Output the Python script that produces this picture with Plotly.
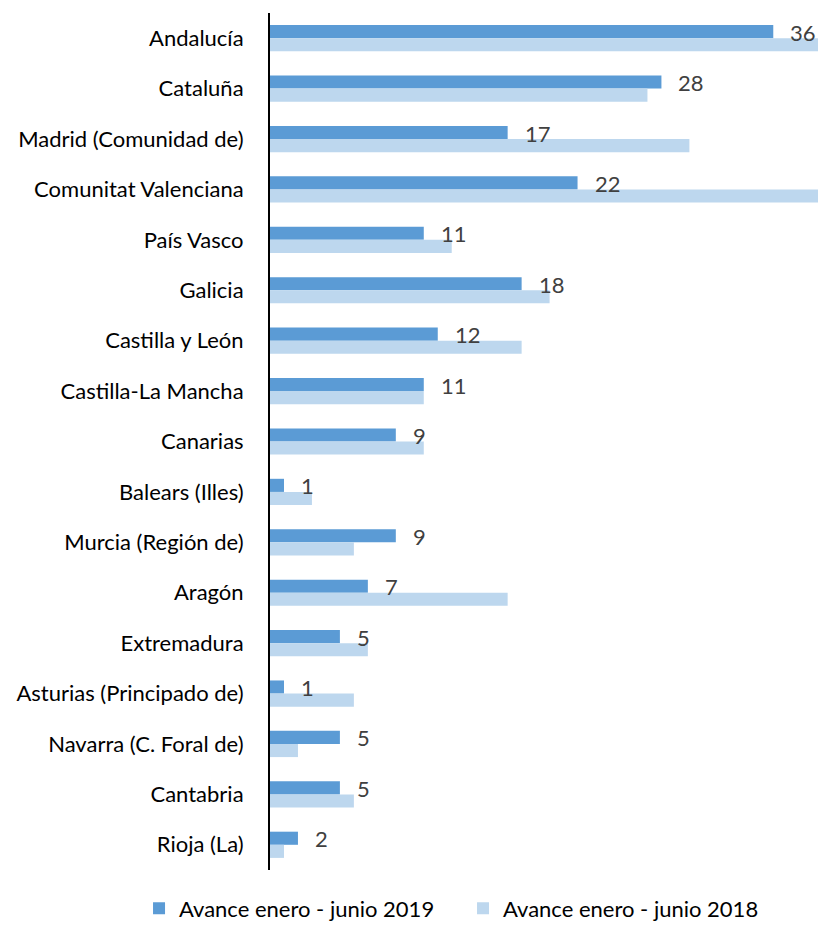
import plotly.graph_objects as go

categories = ["Andalucía", "Cataluña", "Madrid (Comunidad de)", "Comunitat Valenciana",
              "País Vasco", "Galicia", "Castilla y León", "Castilla-La Mancha", "Canarias",
              "Balears (Illes)", "Murcia (Región de)", "Aragón", "Extremadura",
              "Asturias (Principado de)", "Navarra (C. Foral de)", "Cantabria", "Rioja (La)"]
values_2019 = [36, 28, 17, 22, 11, 18, 12, 11, 9, 1, 9, 7, 5, 1, 5, 5, 2]
values_2018 = [40, 27, 30, 40, 13, 20, 18, 11, 11, 3, 6, 17, 7, 6, 2, 6, 1]
name_2019 = "Avance enero - junio 2019"
name_2018 = "Avance enero - junio 2018"

FONT = "Lato"
SIZE = 22

fig = go.Figure()
fig.add_trace(go.Bar(y=categories, x=values_2019, orientation="h", name=name_2019,
                     marker=dict(color="#5B9BD5", line=dict(width=0))))
fig.add_trace(go.Bar(y=categories, x=values_2018, orientation="h", name=name_2018,
                     marker=dict(color="#BDD7EE", line=dict(width=0))))

for c, v in zip(categories, values_2019):
    fig.add_annotation(x=v, y=c, text=str(v), showarrow=False, xanchor="left",
                       xshift=15, yshift=6, font=dict(family=FONT, size=SIZE, color="#404040"))

fig.update_layout(
    width=810, height=914,
    margin=dict(l=262, r=0, t=5, b=52, autoexpand=False),
    paper_bgcolor="white", plot_bgcolor="white",
    barmode="group", bargap=0.48, bargroupgap=0,
    font=dict(family=FONT, size=SIZE, color="#000000"),
    showlegend=True,
    legend=dict(orientation="h", xref="paper", yref="paper",
                x=-0.239, y=-0.045, xanchor="left", yanchor="middle",
                font=dict(family=FONT, size=SIZE, color="#000000"),
                itemwidth=30, entrywidth=279, traceorder="normal",
                bgcolor="rgba(0,0,0,0)"),
    xaxis=dict(range=[0, 39.2], showgrid=False, zeroline=False, showticklabels=False,
               ticks="", showline=False),
    yaxis=dict(autorange="reversed", showgrid=False, zeroline=False, ticks="",
               showline=True, linecolor="black", linewidth=2,
               ticklabelstandoff=20, tickfont=dict(family=FONT, size=SIZE, color="#000000")),
)

fig.write_html("out.html")
